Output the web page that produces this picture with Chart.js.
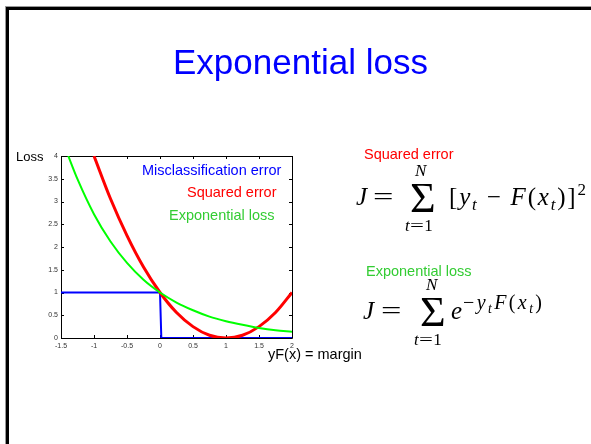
<!DOCTYPE html>
<html>
<head>
<meta charset="utf-8">
<script src="https://cdn.jsdelivr.net/npm/chart.js@4"></script>
<style>
  html, body { margin: 0; padding: 0; background: #fff; }
  #page { position: relative; width: 591px; height: 444px; overflow: hidden; }
  #frame { position: absolute; left: 6px; top: 7px; width: 700px; height: 600px;
           border-left: 3px solid #000; border-top: 3px solid #000; box-shadow: -1px -1px 0 #999; }
  canvas { position: absolute; left: 0; top: 0; }
  .t { position: absolute; line-height: 1; white-space: nowrap; }
  .sans { font-family: "Liberation Sans", Arial, Helvetica, sans-serif; }
  .serif { font-family: "Liberation Serif", "Times New Roman", serif; }
  .t i { font-style: italic; }
  .sb { font-size: 0.68em; position: relative; top: 0.28em; }
  .sp { font-size: 0.68em; position: relative; top: -0.6em; }
  .wide { display: inline-block; transform: scaleX(1.45); transform-origin: left center; }
</style>
</head>
<body>
<div id="page">
  <div id="frame"></div>
  <canvas id="c" width="591" height="444"></canvas>
</div>
<script>
// tick labels
var xTickValues = [-1.5, -1, -0.5, 0, 0.5, 1, 1.5, 2];
var yTickValues = [0, 0.5, 1, 1.5, 2, 2.5, 3, 3.5, 4];

// Misclassification error (step at 0)
var misclassX = [-1.5, 0, 0.02, 2];
var misclassY = [1, 1, 0, 0];

// Squared error
var squaredX = [-1, -0.75, -0.5, -0.25, 0, 0.25, 0.5, 0.75, 1, 1.25, 1.5, 1.75, 2];
var squaredY = [4, 3.06, 2.25, 1.56, 1, 0.56, 0.25, 0.06, 0, 0.06, 0.25, 0.56, 1];

// Exponential loss
var expX = [-1.39, -1.25, -1, -0.75, -0.5, -0.25, 0, 0.25, 0.5, 0.75, 1, 1.25, 1.5, 1.75, 2];
var expY = [4, 3.49, 2.72, 2.12, 1.65, 1.28, 1, 0.78, 0.61, 0.47, 0.37, 0.29, 0.22, 0.17, 0.14];

function pts(xs, ys) {
    return xs.map(function (x, i) { return { x: x, y: ys[i] }; });
}

// text on the slide, placed by baseline
var K = { sans: 0.8465, serif: 0.8375 };
function put(html, x, base, size, fam, color, extra) {
    var d = document.createElement('div');
    d.className = 't ' + fam;
    d.innerHTML = html;
    d.style.left = x + 'px';
    d.style.top = (base - K[fam] * size) + 'px';
    d.style.fontSize = size + 'px';
    d.style.color = color || '#000';
    if (extra) d.style.cssText += extra;
    document.getElementById('page').appendChild(d);
}

put('Exponential loss', 173, 74, 35, 'sans', '#0000ff');
put('Loss', 16, 161, 13, 'sans', '#000');
put('yF(x) = margin', 268, 359, 14.5, 'sans', '#000');

put('Misclassification error', 142, 175.5, 14.5, 'sans', '#0000ff');
put('Squared error', 187, 197.5, 14.5, 'sans', '#ff0000');
put('Exponential loss', 169, 220.5, 14.5, 'sans', '#33cc33');

put('Squared error', 364, 159.5, 14.5, 'sans', '#ff0000');
put('Exponential loss', 366, 276.5, 14.5, 'sans', '#33cc33');

// J = sum [y_t - F(x_t)]^2
put('<i>J</i>', 356, 205, 25, 'serif');
put('<span class="wide">=</span>', 373, 205, 25, 'serif');
put('&Sigma;', 410, 212, 42, 'serif', '#000', 'transform:scaleX(1.05);transform-origin:left;');
put('<i>N</i>', 415, 176, 17, 'serif');
put('<i>t</i><span class="wide">=</span><span style="margin-left:5px">1</span>', 405, 231, 17, 'serif');
put('[<i>y</i><span class="sb"><i>t</i></span> &minus; <i>F</i>(<i>x</i><span class="sb"><i>t</i></span>)]<span class="sp">2</span>',
    449, 205, 25, 'serif', '#000', 'letter-spacing:1.8px;');

// J = sum e^{-y_t F(x_t)}
put('<i>J</i>', 363, 319, 25, 'serif');
put('<span class="wide">=</span>', 381, 319, 25, 'serif');
put('&Sigma;', 420, 326, 42, 'serif', '#000', 'transform:scaleX(1.05);transform-origin:left;');
put('<i>N</i>', 426, 290, 17, 'serif');
put('<i>t</i><span class="wide">=</span><span style="margin-left:5px">1</span>', 414, 345, 17, 'serif');
put('<i>e</i>', 451, 319, 25, 'serif');
put('&minus;<i>y</i><span class="sb"><i>t</i></span><i>F</i>(<i>x</i><span class="sb"><i>t</i></span>)',
    463, 309, 20, 'serif', '#000', 'letter-spacing:2.4px;');

// box round the plot with inward tick marks
var frameTicks = {
    id: 'frameTicks',
    beforeDatasetsDraw: function (chart) {
        var ctx = chart.ctx, a = chart.chartArea;
        var xs = chart.scales.x, ys = chart.scales.y;
        ctx.save();
        ctx.strokeStyle = '#000';
        ctx.lineWidth = 1;
        ctx.beginPath();
        ctx.rect(a.left + 0.5, a.top + 0.5, a.right - a.left, a.bottom - a.top);
        xTickValues.forEach(function (v) {
            var px = Math.round(xs.getPixelForValue(v)) + 0.5;
            ctx.moveTo(px, a.bottom); ctx.lineTo(px, a.bottom - 3);
            ctx.moveTo(px, a.top); ctx.lineTo(px, a.top + 3);
        });
        yTickValues.forEach(function (v) {
            var py = Math.round(ys.getPixelForValue(v)) + 0.5;
            ctx.moveTo(a.left, py); ctx.lineTo(a.left + 3, py);
            ctx.moveTo(a.right, py); ctx.lineTo(a.right - 3, py);
        });
        ctx.stroke();
        ctx.restore();
    }
};

var tickFont = { family: '"Liberation Sans", Arial, sans-serif', size: 7 };
function plainLabel(v) { return String(v); }

new Chart(document.getElementById('c'), {
    type: 'line',
    data: {
        datasets: [
            { label: 'Exponential loss', data: pts(expX, expY), borderColor: '#00ff00', borderWidth: 2, cubicInterpolationMode: 'monotone' },
            { label: 'Squared error', data: pts(squaredX, squaredY), borderColor: '#ff0000', borderWidth: 3, cubicInterpolationMode: 'monotone' },
            { label: 'Misclassification error', data: pts(misclassX, misclassY), borderColor: '#0000ff', borderWidth: 2, tension: 0 }
        ]
    },
    options: {
        responsive: false,
        animation: false,
        events: [],
        layout: { padding: { left: 41, top: 156, right: 299, bottom: 86 } },
        elements: { point: { radius: 0 } },
        plugins: { legend: { display: false }, tooltip: { enabled: false } },
        scales: {
            x: {
                type: 'linear', min: -1.5, max: 2,
                afterBuildTicks: function (s) { s.ticks = xTickValues.map(function (v) { return { value: v }; }); },
                afterFit: function (s) { s.height = 20; },
                grid: { display: false, drawTicks: false },
                border: { display: false },
                ticks: { font: tickFont, color: '#333', padding: 4, maxRotation: 0, autoSkip: false, callback: plainLabel }
            },
            y: {
                type: 'linear', min: 0, max: 4,
                afterBuildTicks: function (s) { s.ticks = yTickValues.map(function (v) { return { value: v }; }); },
                afterFit: function (s) { s.width = 20; },
                grid: { display: false, drawTicks: false },
                border: { display: false },
                ticks: { font: tickFont, color: '#333', padding: 3, autoSkip: false, callback: plainLabel }
            }
        }
    },
    plugins: [frameTicks]
});
</script>
</body>
</html>
